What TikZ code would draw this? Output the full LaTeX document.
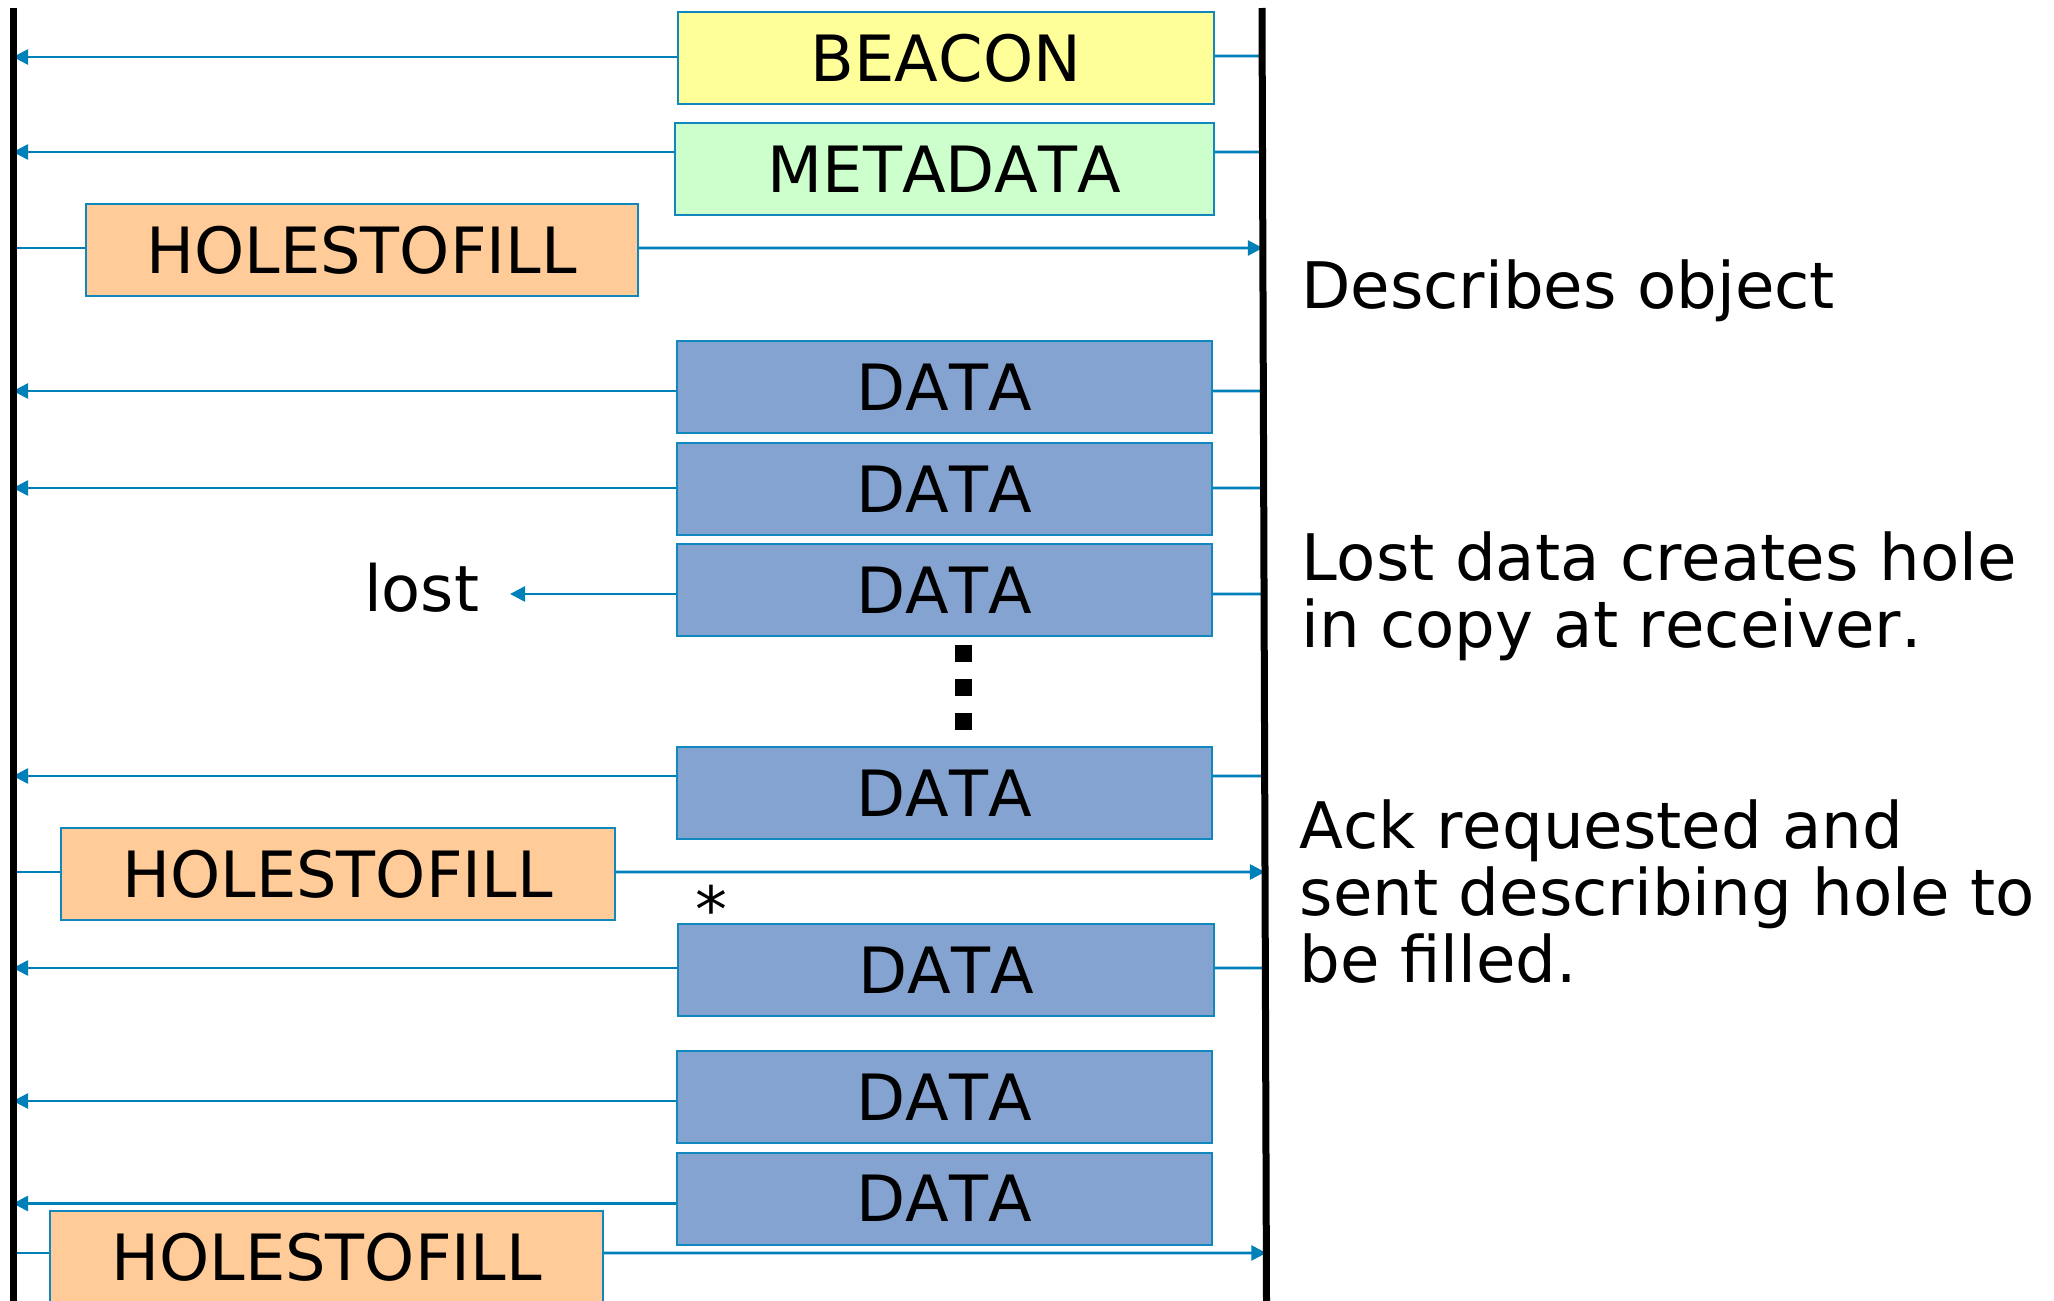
\documentclass[tikz,border=0pt]{standalone}
\usepackage{fontspec}
\setmainfont{DejaVu Sans}[Kerning=Off]
\usetikzlibrary{arrows.meta,calc}
\definecolor{wireblue}{RGB}{0,128,184}
\definecolor{edgeblue}{RGB}{16,136,190}
\definecolor{beaconfill}{RGB}{255,255,153}
\definecolor{metafill}{RGB}{204,255,204}
\definecolor{holefill}{RGB}{255,204,153}
\definecolor{datafill}{RGB}{132,163,208}
\newcommand\lbl{\fontsize{63.8pt}{67pt}\selectfont}
\newcommand\notefont{\fontsize{64.2pt}{67pt}\selectfont}
% point where the horizontal through #1 meets the receiver lifeline
\newcommand\onR[1]{(intersection cs: first line={(Rt)--(Rb)}, second line={(#1)--([xshift=100pt]#1)})}
\begin{document}
\begin{tikzpicture}[x=1pt,y=-1pt,
  pkt/.style={draw=edgeblue, line width=2pt, minimum height=92pt, inner sep=0pt, font=\lbl},
  beaconbox/.style={pkt, fill=beaconfill, minimum width=536pt},
  metabox/.style={pkt, fill=metafill, minimum width=539pt},
  holebox/.style={pkt, fill=holefill, minimum width=552pt},
  databox/.style={pkt, fill=datafill, minimum width=535pt},
  wire/.style={draw=wireblue, line width=2.6pt},
  msg/.style={wire, -{Triangle[length=15pt,width=15pt]}},
  lifeline/.style={draw=black, line width=7pt},
  note/.style={font=\notefont, align=left, anchor=base west, inner sep=0pt}]
\useasboundingbox (0,0) rectangle (2054,1301);

% end points of the two lifelines
\coordinate (Lt) at (13,8);
\coordinate (Lb) at (13,1301);
\coordinate (Rt) at (1262,8);
\coordinate (Rb) at (1266.5,1301);

% packets
\node[beaconbox] (b)  at (946,58)    {BEACON};
\node[metabox]   (m)  at (944.5,169) {METADATA};
\node[holebox]   (h1) at (361.5,250) {HOLESTOFILL};
\node[databox]   (d1) at (944.5,387) {DATA};
\node[databox]   (d2) at (944.5,489) {DATA};
\node[databox]   (d3) at (944.5,590) {DATA};
\node[databox]   (d4) at (944.5,793) {DATA};
\node[holebox, minimum width=554pt] (h2) at (337.5,874) {HOLESTOFILL};
\node[databox, minimum width=536pt] (d5) at (946,970) {DATA};
\node[databox]   (d6) at (944.5,1097) {DATA};
\node[databox]   (d7) at (944.5,1198.5) {DATA};
\node[holebox, minimum width=553pt] (h3) at (326.5,1257) {HOLESTOFILL};

% side notes (anchored at the baseline of their last line)
\node[note] (n1) at (1301,308.7) {Describes object};
\node[note] (n2) at (1301,647) {Lost data creates hole\\in copy at receiver.};
\node[note] (n3) at (1299.5,982) {Ack requested and\\sent describing hole to\\be filled.};
\node[font=\lbl, anchor=base west, inner sep=0pt] (lost) at (364,611) {lost};
\node[font=\lbl, anchor=north, inner sep=0pt] (star) at (711,885) {*};
\coordinate (lostTip) at (510,594);

% anchor points of the connectors
\coordinate (bW)  at ([yshift=1pt]b.west);   \coordinate (bE)  at ([yshift=2pt]b.east);
\coordinate (mW)  at ([yshift=17pt]m.west);  \coordinate (mE)  at ([yshift=17pt]m.east);
\coordinate (h1W) at ([yshift=2pt]h1.west);  \coordinate (h1E) at ([yshift=2pt]h1.east);
\coordinate (d1W) at ([yshift=-4pt]d1.west); \coordinate (d1E) at ([yshift=-4pt]d1.east);
\coordinate (d2W) at ([yshift=1pt]d2.west);  \coordinate (d2E) at ([yshift=1pt]d2.east);
\coordinate (d3W) at ([yshift=-4pt]d3.west); \coordinate (d3E) at ([yshift=-4pt]d3.east);
\coordinate (d4W) at ([yshift=17pt]d4.west); \coordinate (d4E) at ([yshift=17pt]d4.east);
\coordinate (h2W) at ([yshift=2pt]h2.west);  \coordinate (h2E) at ([yshift=2pt]h2.east);
\coordinate (d5W) at ([yshift=2pt]d5.west);  \coordinate (d5E) at ([yshift=2pt]d5.east);
\coordinate (d6W) at ([yshift=-4pt]d6.west);
\coordinate (d7W) at ([yshift=-5pt]d7.west);
\coordinate (h3W) at ([yshift=4pt]h3.west);  \coordinate (h3E) at ([yshift=4pt]h3.east);

% sender to receiver (right to left)
\draw[msg]  (bW) -- (bW -| Lt);   \draw[wire] (bE) -- \onR{bE};
\draw[msg]  (mW) -- (mW -| Lt);   \draw[wire] (mE) -- \onR{mE};
\draw[msg]  (d1W) -- (d1W -| Lt); \draw[wire] (d1E) -- \onR{d1E};
\draw[msg]  (d2W) -- (d2W -| Lt); \draw[wire] (d2E) -- \onR{d2E};
\draw[msg]  (d3W) -- (lostTip);   \draw[wire] (d3E) -- \onR{d3E};
\draw[msg]  (d4W) -- (d4W -| Lt); \draw[wire] (d4E) -- \onR{d4E};
\draw[msg]  (d5W) -- (d5W -| Lt); \draw[wire] (d5E) -- \onR{d5E};
\draw[msg]  (d6W) -- (d6W -| Lt);
\draw[msg]  (d7W) -- (d7W -| Lt);

% receiver to sender (left to right)
\draw[wire] (h1W -| Lt) -- (h1W); \draw[msg] (h1E) -- \onR{h1E};
\draw[wire] (h2W -| Lt) -- (h2W); \draw[msg] (h2E) -- \onR{h2E};
\draw[wire] (h3W -| Lt) -- (h3W); \draw[msg] (h3E) -- \onR{h3E};

% ellipsis between the data packets
\draw[line width=17pt, dash pattern=on 17pt off 17pt] (963,645) -- (963,730);

% lifelines
\draw[lifeline] (Lt) -- (Lb);
\draw[lifeline] (Rt) -- (Rb);
\end{tikzpicture}
\end{document}
